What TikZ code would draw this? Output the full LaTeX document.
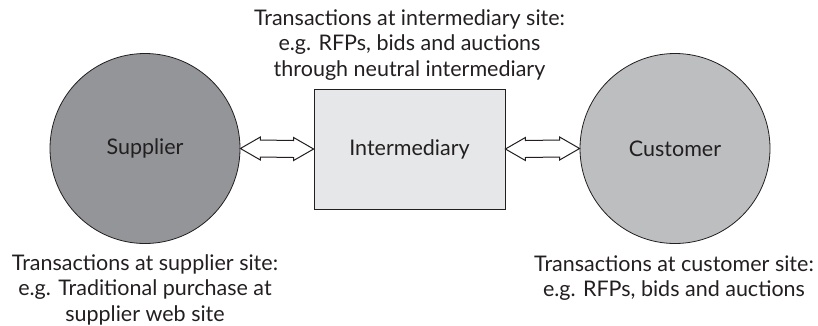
\documentclass[tikz,border=0pt]{standalone}
\usepackage{fontspec}
\setmainfont{Lato}
\definecolor{inkgray}{RGB}{35, 31, 32}
\definecolor{supgray}{RGB}{147, 149, 152}
\definecolor{custgray}{RGB}{188, 190, 192}
\definecolor{intergray}{RGB}{230, 231, 232}
\usepackage{tikz}
\usetikzlibrary{calc, positioning}

\begin{document}
\begin{tikzpicture}[x=1pt, y=-1pt,
    every node/.style={text=inkgray, font=\fontsize{21.5}{25.5}\selectfont},
    party/.style={circle, draw=inkgray, line width=0.8pt, minimum size=190pt, inner sep=0pt},
    hollowarrow/.style={draw=inkgray, fill=white, line width=1pt, line join=miter}]
  \useasboundingbox (0,0) rectangle (818,325);

  % Parties and intermediary
  \node[party, fill=supgray] (sup) at (145, 148.5) {Supplier};
  \node[party, fill=custgray] (cust) at (675, 148.5) {Customer};
  \node[draw=inkgray, fill=intergray, line width=0.8pt, minimum width=191pt, minimum height=120pt, inner sep=0pt] (inter) at (409.5, 149) {Intermediary};

  % Descriptions
  \node[align=center] (interlabel) at (409.5, 45) {Transactions at intermediary site:\\e.g. RFPs, bids and auctions\\through neutral intermediary};
  \node[align=center] (suplabel) at (145, 289.5) {Transactions at supplier site:\\e.g. Traditional purchase at\\supplier web site};
  \node[align=center] (custlabel) at (674, 278) {Transactions at customer site:\\e.g. RFPs, bids and auctions};

  % Two-way block arrows
  \draw[hollowarrow] (sup.east) -- ++(20,-11.5) -- ++(0,3) -- ($(inter.west)+(-20,-8.5)$) -- ++(0,-3) -- (inter.west)
    -- ++(-20,11.5) -- ++(0,-3) -- ($(sup.east)+(20,8.5)$) -- ++(0,3) -- cycle;
  \draw[hollowarrow] (inter.east) -- ++(20,-11.5) -- ++(0,3) -- ($(cust.west)+(-20,-8.5)$) -- ++(0,-3) -- (cust.west)
    -- ++(-20,11.5) -- ++(0,-3) -- ($(inter.east)+(20,8.5)$) -- ++(0,3) -- cycle;
\end{tikzpicture}
\end{document}
